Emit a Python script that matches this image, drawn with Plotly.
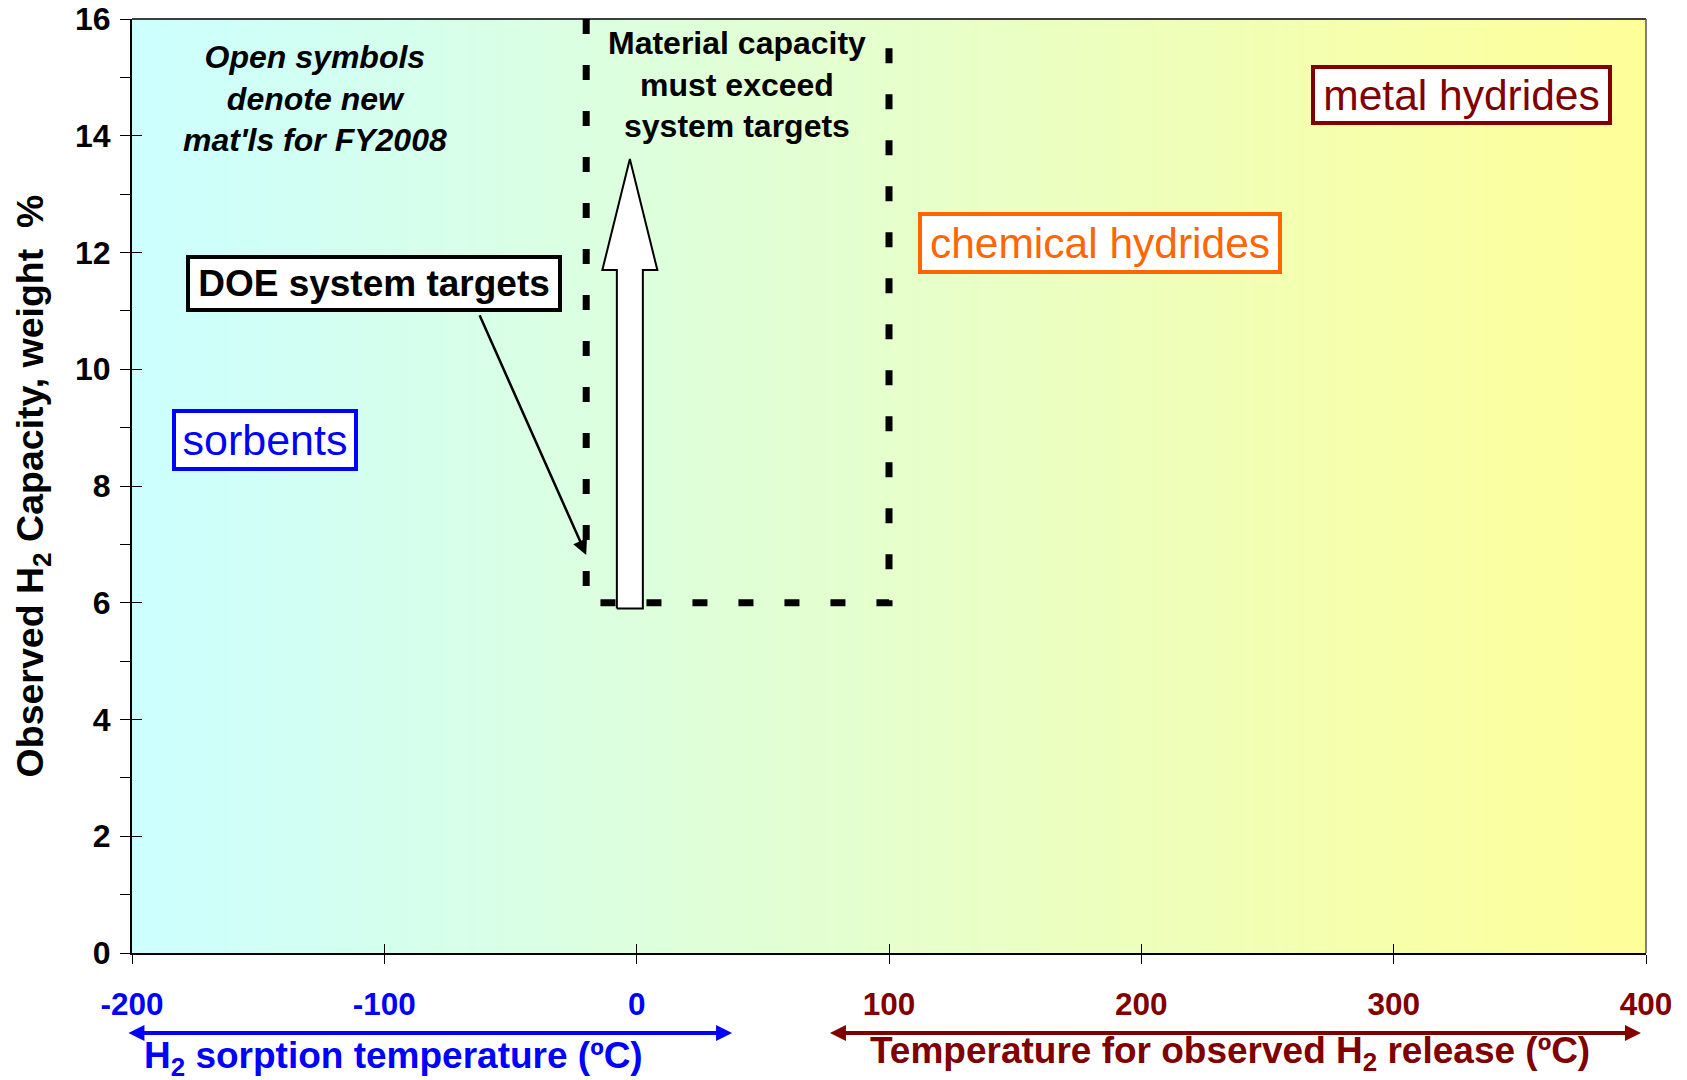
import plotly.graph_objects as go

# ---------------- data ----------------
x_tickvals = [-200, -100, 0, 100, 200, 300, 400]
x_ticklabels = ["-200", "-100", "0", "100", "200", "300", "400"]
x_tickcolors = ["#0000FF", "#0000FF", "#0000FF", "#800000", "#800000", "#800000", "#800000"]
y_tickvals = [0, 2, 4, 6, 8, 10, 12, 14, 16]
x_range = [-200, 400]
y_range = [0, 16]

# DOE system target region (temperature window and minimum capacity)
target_temp = [-20, -20, 100, 100]
target_cap = [16, 6, 6, 16]

# background gradient stops
bg_x = [-200, 400]
bg_colors = ["#CCFFFF", "#FFFF99"]

# block arrow "material capacity must exceed system targets"
blk_center = -2.7
blk_base = 5.9
blk_head_base = 11.7
blk_tip = 13.6
blk_shaft_half = 5.15
blk_head_half = 10.9

# category boxes: text, x, y, color, box width, box height, font size
categories = [
    ("sorbents", -147.3, 8.79, "#0000FF", 178, 54, 43),
    ("chemical hydrides", 183.7, 12.17, "#FF6600", 356, 54, 42.5),
    ("metal hydrides", 326.9, 14.70, "#800000", 293, 52, 42.5),
]

# DOE system targets label + pointer
doe_label = ("DOE system targets", -104.1, 11.47)
doe_tail = (-62.5, 10.95)
doe_head = (-20, 6.82)

note_lines = ["Open symbols", "denote new", "mat'ls for FY2008"]
note_pos = (-127.5, 14.64)
material_lines = ["Material capacity", "must exceed", "system targets"]
material_pos = (39.8, 14.87)

FONT = "Arial, Liberation Sans, Helvetica, sans-serif"

fig = go.Figure()

# background gradient
fig.add_trace(go.Heatmap(
    x=bg_x, y=y_range, z=[[0, 1], [0, 1]],
    colorscale=[[0, bg_colors[0]], [1, bg_colors[1]]],
    zsmooth="best", showscale=False, hoverinfo="skip",
))

# dashed target box
fig.add_trace(go.Scatter(
    x=target_temp, y=target_cap, mode="lines",
    line=dict(color="black", width=7, dash="15px,31px"),
    hoverinfo="skip", showlegend=False,
))

# white block arrow
c = blk_center
ax_poly = [c - blk_shaft_half, c - blk_shaft_half, c - blk_head_half, c,
           c + blk_head_half, c + blk_shaft_half, c + blk_shaft_half, c - blk_shaft_half]
ay_poly = [blk_base, blk_head_base, blk_head_base, blk_tip,
           blk_head_base, blk_head_base, blk_base, blk_base]
fig.add_trace(go.Scatter(
    x=ax_poly, y=ay_poly, mode="lines", fill="toself", fillcolor="white",
    line=dict(color="black", width=2), hoverinfo="skip", showlegend=False,
))

# dummy trace for overlay axes (cross ticks)
fig.add_trace(go.Scatter(x=[], y=[], xaxis="x2", yaxis="y2", showlegend=False))

annotations = []
for txt, x, y, col, w, h, fs in categories:
    annotations.append(dict(
        x=x, y=y, xref="x", yref="y", text=txt, showarrow=False,
        font=dict(family=FONT, size=fs, color=col),
        bgcolor="white", bordercolor=col, borderwidth=4, borderpad=0,
        width=w, height=h, xanchor="center", yanchor="middle",
    ))

annotations.append(dict(
    x=doe_label[1], y=doe_label[2], xref="x", yref="y", text="<b>" + doe_label[0] + "</b>",
    showarrow=False, font=dict(family=FONT, size=37, color="black"),
    bgcolor="white", bordercolor="black", borderwidth=4, borderpad=0,
    width=368, height=49, xanchor="center", yanchor="middle",
))
annotations.append(dict(
    x=doe_head[0], y=doe_head[1], ax=doe_tail[0], ay=doe_tail[1],
    xref="x", yref="y", axref="x", ayref="y", text="", showarrow=True,
    arrowhead=2, arrowsize=1.2, arrowwidth=2.5, arrowcolor="black", standoff=0,
))

annotations.append(dict(
    x=note_pos[0], y=note_pos[1], xref="x", yref="y",
    text="<b><i>" + "<br>".join(note_lines) + "</i></b>", showarrow=False,
    font=dict(family=FONT, size=32, color="black"), align="center",
    xanchor="center", yanchor="middle",
))
annotations.append(dict(
    x=material_pos[0], y=material_pos[1], xref="x", yref="y",
    text="<b>" + "<br>".join(material_lines) + "</b>", showarrow=False,
    font=dict(family=FONT, size=32, color="black"), align="center",
    xanchor="center", yanchor="middle",
))

# bottom range arrows and labels
arrow_y = -0.0857
annotations.append(dict(
    x=37.8, y=arrow_y, ax=-202, ay=0, xref="x", yref="paper", axref="x", ayref="pixel",
    text="", showarrow=True, arrowhead=2, arrowside="end+start", arrowsize=0.8,
    arrowwidth=4, arrowcolor="#0000FF", standoff=0, startstandoff=0,
))
annotations.append(dict(
    x=398, y=arrow_y, ax=76, ay=0, xref="x", yref="paper", axref="x", ayref="pixel",
    text="", showarrow=True, arrowhead=2, arrowside="end+start", arrowsize=0.8,
    arrowwidth=4, arrowcolor="#800000", standoff=0, startstandoff=0,
))
annotations.append(dict(
    x=-96.5, y=-0.1120, xref="x", yref="paper",
    text="<b>H<sub>2</sub> sorption temperature (ºC)</b>", showarrow=False,
    font=dict(family=FONT, size=37, color="#0000FF"), xanchor="center", yanchor="middle",
))
annotations.append(dict(
    x=235.2, y=-0.1075, xref="x", yref="paper",
    text="<b>Temperature for observed H<sub>2</sub> release (ºC)</b>", showarrow=False,
    font=dict(family=FONT, size=37, color="#800000"), xanchor="center", yanchor="middle",
))

x_ticktext = [f"<span style='color:{c}'>{t}</span>" for t, c in zip(x_ticklabels, x_tickcolors)]

fig.update_layout(
    template="none",
    width=1687, height=1080,
    margin=dict(l=132, r=41, t=19, b=127, autoexpand=False),
    paper_bgcolor="white", plot_bgcolor="white",
    showlegend=False,
    font=dict(family=FONT, color="black"),
    xaxis=dict(
        range=x_range, tickvals=x_tickvals, ticktext=x_ticktext,
        ticks="outside", ticklen=9, tickwidth=1, tickcolor="black",
        tickfont=dict(family=FONT, size=31.5, weight="bold"),
        ticklabelstandoff=13, ticklabeloverflow="allow",
        showline=True, linecolor="black", linewidth=2,
        showgrid=False, zeroline=False, automargin=False, fixedrange=True,
    ),
    yaxis=dict(
        range=y_range, tickvals=y_tickvals,
        ticks="outside", ticklen=10, tickwidth=1, tickcolor="black",
        minor=dict(dtick=1, ticks="outside", ticklen=10, tickcolor="black", tickwidth=1),
        tickfont=dict(family=FONT, size=32, color="black", weight="bold"),
        ticklabelstandoff=3, ticklabeloverflow="allow",
        showline=True, linecolor="black", linewidth=2,
        showgrid=False, zeroline=False, automargin=False, fixedrange=True,
        title=dict(text="Observed H<sub>2</sub> Capacity, weight\u00a0 %",
                   font=dict(family=FONT, size=37.5, color="black", weight="bold"),
                   standoff=20),
    ),
    xaxis2=dict(range=x_range, overlaying="x", anchor="y", side="bottom",
                tickvals=x_tickvals, ticks="inside", ticklen=9, tickcolor="black",
                showticklabels=False, showline=False, showgrid=False, zeroline=False),
    yaxis2=dict(range=y_range, overlaying="y", anchor="x", side="left",
                tickvals=y_tickvals, ticks="inside", ticklen=10, tickcolor="black",
                showticklabels=False, showline=False, showgrid=False, zeroline=False),
    annotations=annotations,
    shapes=[
        dict(type="line", xref="paper", yref="paper", x0=0, x1=1, y0=1, y1=1,
             line=dict(color="black", width=1.5)),
        dict(type="line", xref="paper", yref="paper", x0=1, x1=1, y0=0, y1=1,
             line=dict(color="#555555", width=1.5)),
    ],
)

fig.write_html("out.html",
               config={"displayModeBar": False},
               post_script="document.body.style.margin='0px';document.body.style.overflow='hidden';")
